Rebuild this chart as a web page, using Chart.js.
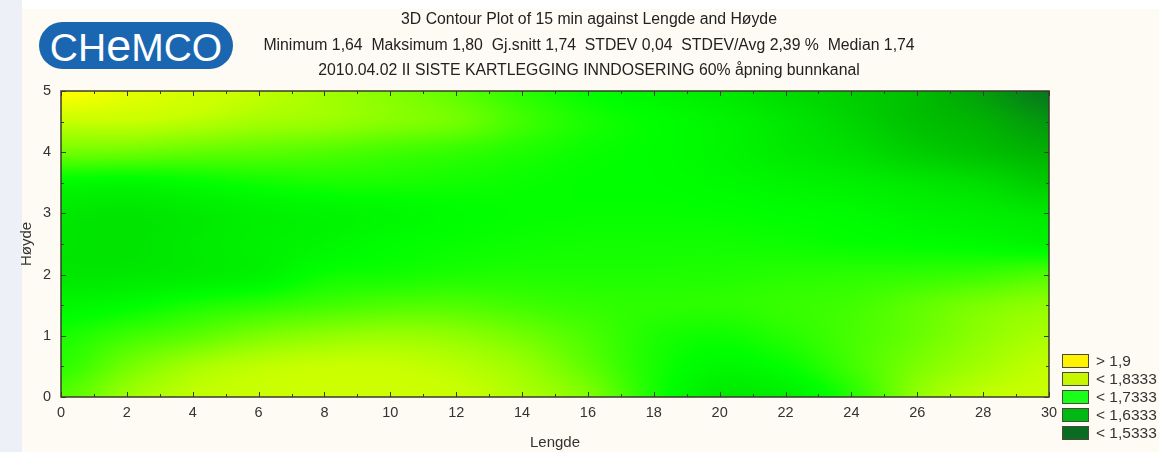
<!DOCTYPE html>
<html>
<head>
<meta charset="utf-8">
<script src="https://cdn.jsdelivr.net/npm/chart.js@4.4.1/dist/chart.umd.min.js"></script>
<style>
html,body{margin:0;padding:0;width:1159px;height:452px;overflow:hidden;background:#eef0f7;font-family:"Liberation Sans",Arial,sans-serif}
#bg{position:absolute;left:22px;top:0;width:1137px;height:452px;background:linear-gradient(#ffffff 0,#ffffff 9px,#fdfbf3 9px)}
#logo{position:absolute;left:39px;top:22px;width:194px;height:47px;border-radius:24px;background:#1a66b0;color:#fff;
  font-family:"Liberation Sans",Arial,sans-serif;font-size:39px;line-height:47px;text-align:center;letter-spacing:0px}
#logo span{font-size:1.15em}
canvas{position:absolute;left:0;top:0}
</style>
</head>
<body>
<div id="bg"></div>
<div id="logo">CH<span>e</span>MCO</div>
<canvas id="c" width="1159" height="452"></canvas>
<script>
// ---- data ----
const xValues = [0,2,4,6,8,10,12,14,16,18,20,22,24,26,28,30];           // Lengde
const yValues = [5,4.5,4,3.5,3,2.5,2,1.5,1,0.5,0];                      // Høyde (rows, top to bottom)
const zValues = [
  [1.900,1.870,1.845,1.830,1.815,1.800,1.780,1.755,1.735,1.720,1.705,1.685,1.665,1.640,1.600,1.550],
  [1.833,1.833,1.825,1.815,1.810,1.800,1.790,1.765,1.745,1.733,1.720,1.700,1.675,1.645,1.625,1.590],
  [1.790,1.788,1.782,1.778,1.773,1.765,1.758,1.748,1.738,1.732,1.722,1.705,1.690,1.665,1.645,1.625],
  [1.728,1.725,1.732,1.740,1.745,1.745,1.742,1.738,1.734,1.733,1.728,1.720,1.712,1.700,1.685,1.660],
  [1.702,1.698,1.705,1.714,1.720,1.725,1.732,1.735,1.736,1.736,1.735,1.732,1.728,1.718,1.710,1.700],
  [1.698,1.696,1.705,1.714,1.722,1.732,1.737,1.740,1.742,1.742,1.742,1.740,1.736,1.733,1.728,1.720],
  [1.700,1.702,1.708,1.717,1.738,1.742,1.747,1.749,1.748,1.748,1.749,1.752,1.754,1.757,1.762,1.772],
  [1.722,1.730,1.745,1.755,1.765,1.772,1.773,1.765,1.758,1.755,1.755,1.760,1.765,1.780,1.795,1.805],
  [1.745,1.763,1.778,1.795,1.805,1.810,1.805,1.790,1.770,1.748,1.740,1.752,1.768,1.785,1.805,1.818],
  [1.755,1.790,1.815,1.828,1.833,1.833,1.825,1.810,1.780,1.745,1.725,1.735,1.765,1.795,1.815,1.830],
  [1.775,1.810,1.829,1.835,1.840,1.840,1.835,1.820,1.797,1.745,1.705,1.712,1.750,1.805,1.829,1.835]
];
const levelValues = [1.5333,1.6333,1.7333,1.8333,1.9];
const levelColors = ['#0a6a22','#00b800','#00ff00','#c8ff00','#ffff00'];
const legendLabels = ['> 1,9','< 1,8333','< 1,7333','< 1,6333','< 1,5333'];
const legendColors = ['#fff200','#c8f500','#1aff1a','#00b814','#0a6b22'];
const titleLines = [
  '3D Contour Plot of 15 min against Lengde and Høyde',
  'Minimum 1,64  Maksimum 1,80  Gj.snitt 1,74  STDEV 0,04  STDEV/Avg 2,39 %  Median 1,74',
  '2010.04.02 II SISTE KARTLEGGING INNDOSERING 60% åpning bunnkanal'
];

const FONT = '"Liberation Sans", Arial, sans-serif';
const TXT = '#333333';

const points = [];
yValues.forEach((yv,j)=>xValues.forEach((xv,i)=>points.push({x:xv,y:yv,v:zValues[j][i]})));

function hexToRgb(h){return [parseInt(h.slice(1,3),16),parseInt(h.slice(3,5),16),parseInt(h.slice(5,7),16)];}
const stopRgb = levelColors.map(hexToRgb);
function colorFor(v){
  if (v<=levelValues[0]) return stopRgb[0];
  for (let k=1;k<levelValues.length;k++){
    if (v<=levelValues[k]){
      const t=(v-levelValues[k-1])/(levelValues[k]-levelValues[k-1]);
      const a=stopRgb[k-1], b=stopRgb[k];
      return [a[0]+(b[0]-a[0])*t, a[1]+(b[1]-a[1])*t, a[2]+(b[2]-a[2])*t];
    }
  }
  return stopRgb[stopRgb.length-1];
}
function cr(p0,p1,p2,p3,t){
  return 0.5*((2*p1)+(-p0+p2)*t+(2*p0-5*p1+4*p2-p3)*t*t+(-p0+3*p1-3*p2+p3)*t*t*t);
}
function gridAt(i,j){
  i=Math.max(0,Math.min(xValues.length-1,i));
  j=Math.max(0,Math.min(yValues.length-1,j));
  return zValues[j][i];
}
function sample(xv,yv){
  const fx=(xv-xValues[0])/(xValues[1]-xValues[0]);
  const fy=(yv-yValues[0])/(yValues[1]-yValues[0]);
  const i=Math.floor(fx), j=Math.floor(fy);
  const tx=fx-i, ty=fy-j;
  const rows=[];
  for (let m=-1;m<=2;m++){
    rows.push(cr(gridAt(i-1,j+m),gridAt(i,j+m),gridAt(i+1,j+m),gridAt(i+2,j+m),tx));
  }
  return cr(rows[0],rows[1],rows[2],rows[3],ty);
}

const heatmapPlugin = {
  id:'heatmap',
  beforeDatasetsDraw(chart){
    const {ctx, chartArea:a, scales:{x,y}} = chart;
    const w=Math.round(a.right-a.left), h=Math.round(a.bottom-a.top);
    const off=document.createElement('canvas'); off.width=w; off.height=h;
    const octx=off.getContext('2d');
    const img=octx.createImageData(w,h);
    const xs=new Float64Array(w);
    for (let px=0;px<w;px++) xs[px]=x.getValueForPixel(a.left+px+0.5);
    for (let py=0;py<h;py++){
      const yv=y.getValueForPixel(a.top+py+0.5);
      for (let px=0;px<w;px++){
        const c=colorFor(sample(xs[px],yv));
        const o=(py*w+px)*4;
        img.data[o]=c[0];img.data[o+1]=c[1];img.data[o+2]=c[2];img.data[o+3]=255;
      }
    }
    octx.putImageData(img,0,0);
    ctx.drawImage(off,a.left,a.top,w,h);
  }
};

const framePlugin = {
  id:'frame',
  afterDatasetsDraw(chart){
    const {ctx, chartArea:a, scales:{x,y}} = chart;
    ctx.save();
    ctx.strokeStyle='#3a3a2e'; ctx.lineWidth=1;
    ctx.beginPath();
    for (let v=0; v<=30; v+=1){
      const px=Math.round(x.getPixelForValue(v))+0.5;
      const len=(v%2===0)?5:3;
      ctx.moveTo(px,a.bottom); ctx.lineTo(px,a.bottom-len);
      ctx.moveTo(px,a.top); ctx.lineTo(px,a.top+len);
    }
    for (let v=0; v<=5; v+=0.5){
      const py=Math.round(y.getPixelForValue(v))+0.5;
      const len=(v%1===0)?5:3;
      ctx.moveTo(a.left,py); ctx.lineTo(a.left+len,py);
      ctx.moveTo(a.right,py); ctx.lineTo(a.right-len,py);
    }
    ctx.stroke();
    ctx.lineWidth=1.5;
    ctx.strokeRect(a.left,a.top,a.right-a.left,a.bottom-a.top);
    ctx.restore();
  }
};

const textPlugin = {
  id:'texts',
  afterDraw(chart){
    const {ctx} = chart;
    ctx.save();
    ctx.fillStyle='#222222';
    ctx.font='15.8px '+FONT;
    ctx.textAlign='center'; ctx.textBaseline='middle';
    const ys=[20,46,71];
    titleLines.forEach((t,k)=>ctx.fillText(t,589,ys[k]));
    // legend
    const ly=[361,379,397,415,433];
    ctx.textAlign='left';
    ctx.font='15.5px '+FONT;
    legendLabels.forEach((t,k)=>{
      ctx.fillStyle=legendColors[k];
      ctx.fillRect(1062,ly[k]-7,27,14);
      ctx.strokeStyle='#4a4a3a'; ctx.lineWidth=1;
      ctx.strokeRect(1062.5,ly[k]-6.5,26,13);
      ctx.fillStyle=TXT;
      ctx.fillText(t,1096,ly[k]+1);
    });
    ctx.restore();
  }
};

new Chart(document.getElementById('c'),{
  type:'scatter',
  data:{datasets:[{label:'15 min',data:points,pointRadius:0,showLine:false}]},
  options:{
    responsive:false, animation:false, events:[],
    layout:{padding:{left:18,right:110,top:91,bottom:0}},
    plugins:{legend:{display:false},tooltip:{enabled:false},title:{display:false}},
    scales:{
      x:{type:'linear',min:0,max:30,
        ticks:{stepSize:2,color:TXT,font:{family:FONT,size:14.5},padding:7,maxRotation:0},
        grid:{display:false,drawTicks:false},border:{display:false},
        title:{display:true,text:'Lengde',color:TXT,font:{family:FONT,size:15},padding:{top:6,bottom:0}},
        afterFit(s){s.height=55;}},
      y:{type:'linear',min:0,max:5,
        ticks:{stepSize:1,color:TXT,font:{family:FONT,size:14.5},padding:10},
        grid:{display:false,drawTicks:false},border:{display:false},
        title:{display:true,text:'Høyde',color:TXT,font:{family:FONT,size:15},padding:{top:0,bottom:4}},
        afterFit(s){s.width=43;}}
    }
  },
  plugins:[heatmapPlugin,framePlugin,textPlugin]
});
</script>
</body>
</html>
